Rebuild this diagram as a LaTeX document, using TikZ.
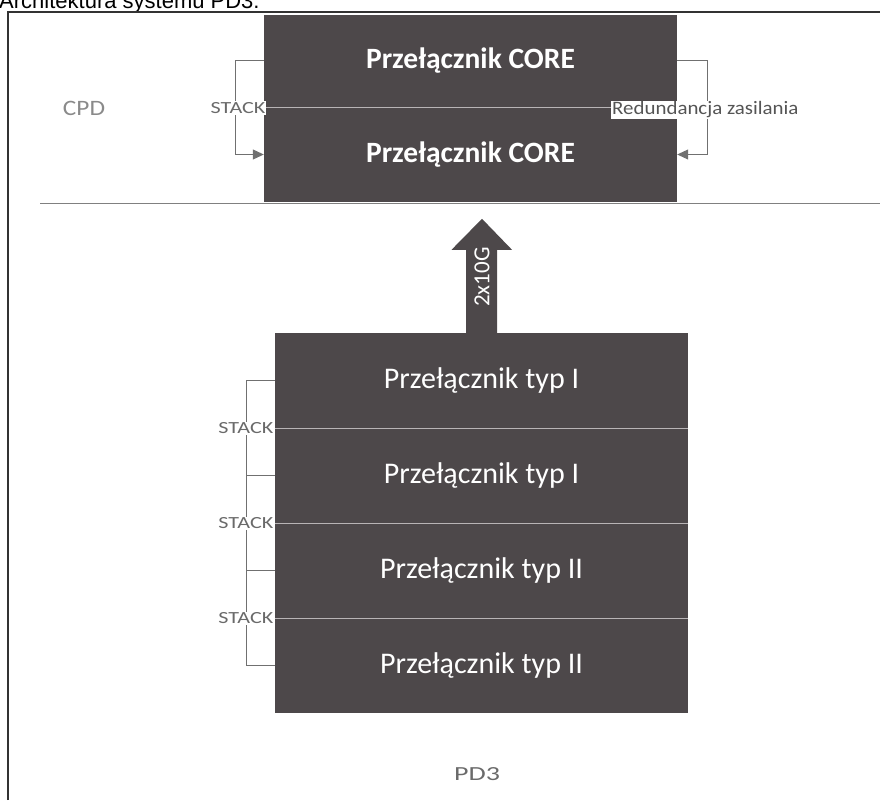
\documentclass[tikz,border=0pt]{standalone}
\usepackage{fontspec}
\setmainfont{Carlito}
\newfontfamily\titlefont{Liberation Sans}
\usetikzlibrary{arrows.meta,calc}
\definecolor{boxgray}{HTML}{4D484A}
\definecolor{linegray}{HTML}{707070}
\definecolor{labelgray}{HTML}{6A6A6A}
\definecolor{redgray}{HTML}{555555}
\definecolor{lightlabel}{HTML}{8A8A8A}
\definecolor{divgray}{HTML}{B8B4B6}
\definecolor{framegray}{HTML}{333333}
\begin{document}
\begin{tikzpicture}[x=1pt,y=-1pt,
  swbox/.style={fill=boxgray, draw=none, inner sep=0pt, minimum width=413pt,
    minimum height=95pt, text=white, font=\fontsize{30}{35}\selectfont},
  corebox/.style={swbox, font=\bfseries\fontsize{29.5}{35}\selectfont},
  bracket/.style={draw=linegray, line width=1pt},
  arrowbracket/.style={bracket, -{Triangle[length=11pt,width=10pt]}},
  stacklabel/.style={fill=white, inner sep=1pt, text=labelgray,
    font=\fontsize{17}{20}\selectfont},
  divider/.style={draw=divgray, line width=0.8pt},
  zone/.style={text=lightlabel, font=\fontsize{22}{26}\selectfont},
]
\useasboundingbox (0,0) rectangle (880,800);

% title (cut at the top edge, as in the reference)
\node[anchor=base west, inner sep=0pt, font=\titlefont\fontsize{22}{26}\selectfont] (title) at (-1,9) {Architektura systemu PD3.};

% frame and separator
\draw[framegray, line width=1.5pt] (8,800) -- (8,12) -- (880,12);
\draw[gray, line width=1pt] (40,203) -- (880,203);

% CORE boxes
\node[corebox, minimum height=92pt] (core1) at (470.5,61) {Przełącznik CORE};
\node[corebox, minimum height=95pt] (core2) at (470.5,154.5) {Przełącznik CORE};

% stack of access switches
\node[swbox] (sw1) at (481.5,380.5) {Przełącznik typ I};
\node[swbox] (sw2) at (481.5,475.5) {Przełącznik typ I};
\node[swbox] (sw3) at (481.5,570.5) {Przełącznik typ II};
\node[swbox] (sw4) at (481.5,665.5) {Przełącznik typ II};

% dividers
\draw[divider] (core1.south west) -- (core1.south east);
\draw[divider] (sw1.south west) -- (sw1.south east);
\draw[divider] (sw2.south west) -- (sw2.south east);
\draw[divider] (sw3.south west) -- (sw3.south east);

% uplink arrow 2x10G
\fill[boxgray] ($(sw1.north)+(-15.5,0)$) -- ++(0,-83) -- ++(-14.5,0)
  -- ($(sw1.north)+(0.5,-114)$) -- ($(sw1.north)+(30.5,-83)$) -- ++(-15,0)
  -- ($(sw1.north)+(15.5,0)$) -- cycle;
\node[rotate=90, text=white, inner sep=0pt, font=\fontsize{23}{26}\selectfont] (bw) at (482,277) {2x10G};

% CORE brackets
\draw[arrowbracket] (core1.west) -- ++(-28,0) |- (core2.west);
\draw[arrowbracket] (core1.east) -- ++(30,0) |- (core2.east);
\node[stacklabel] (stk0) at (238,108) {\scalebox{1.3}[1]{STACK}};
\node[stacklabel, anchor=west, text=redgray, font=\fontsize{19}{22}\selectfont] (red) at (611,110) {\scalebox{1.1}[1]{Redundancja zasilania}};

% lower stack brackets
\draw[bracket] (sw1.west) -- ++(-28,0) |- (sw2.west);
\draw[bracket] (sw2.west) -- ++(-28,0) |- (sw3.west);
\draw[bracket] (sw3.west) -- ++(-28,0) |- (sw4.west);
\node[stacklabel] (stk1) at ($(sw1.south west)+(-29,0)$) {\scalebox{1.3}[1]{STACK}};
\node[stacklabel] (stk2) at ($(sw2.south west)+(-29,0)$) {\scalebox{1.3}[1]{STACK}};
\node[stacklabel] (stk3) at ($(sw3.south west)+(-29,0)$) {\scalebox{1.3}[1]{STACK}};

% zone labels
\node[zone] (cpd) at (84,108) {\scalebox{1.15}[1]{CPD}};
\node[zone, text=labelgray, font=\fontsize{20}{24}\selectfont] (pd3) at (477,774) {\scalebox{1.4}[1]{PD3}};
\end{tikzpicture}
\end{document}
